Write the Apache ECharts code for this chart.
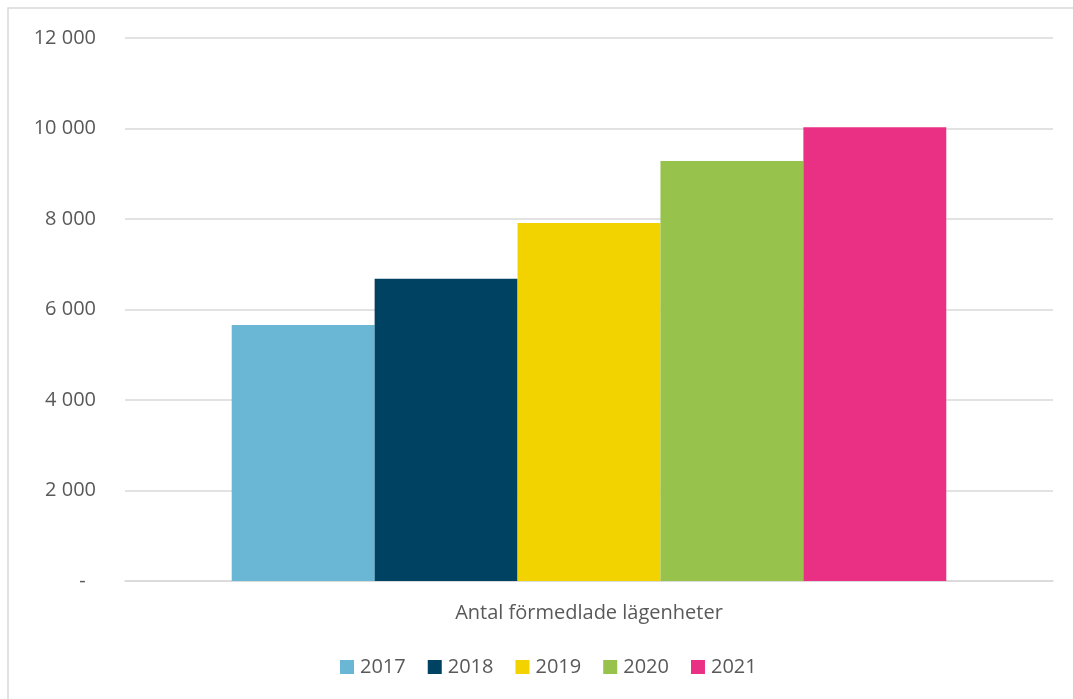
<!DOCTYPE html>
<html>
<head>
<meta charset="utf-8">
<script src="https://cdn.jsdelivr.net/npm/echarts@6/dist/echarts.min.js"></script>
<style>html,body{margin:0;padding:0;background:#fff;}#c{width:1073px;height:699px;}</style>
</head>
<body>
<div id="c"></div>
<script>
var categories = ['Antal förmedlade lägenheter'];
var years = ['2017', '2018', '2019', '2020', '2021'];
var values = [5660, 6680, 7910, 9280, 10030];
var colors = ['#69B6D5', '#004262', '#F2D300', '#97C24C', '#E93084'];
var yTicks = [0, 2000, 4000, 6000, 8000, 10000, 12000];

var chart = echarts.init(document.getElementById('c'));
var font = '"Open Sans", "Noto Sans", sans-serif';
var series = years.map(function (y, i) {
  return {
    name: y,
    type: 'bar',
    data: [values[i]],
    itemStyle: { color: colors[i] },
    barGap: '0%',
    barCategoryGap: '23%'
  };
});
chart.setOption({
  animation: false,
  backgroundColor: '#ffffff',
  graphic: [{
    type: 'rect',
    shape: { x: 8, y: 8, width: 1200, height: 1200 },
    style: { fill: 'none', stroke: '#d9d9d9', lineWidth: 1.5 },
    silent: true
  }],
  grid: { left: 125, right: 20, top: 38, bottom: 118 },
  legend: {
    data: years,
    left: 335,
    top: 652,
    itemWidth: 14,
    itemHeight: 14,
    itemGap: 22,
    icon: 'rect',
    textStyle: { fontFamily: font, fontSize: 20, color: '#595959', padding: [0, 0, 0, 1] }
  },
  xAxis: {
    type: 'category',
    data: categories,
    axisLine: { show: true, lineStyle: { color: '#d9d9d9', width: 1.5 } },
    axisTick: { show: false },
    axisLabel: { fontFamily: font, fontSize: 20, color: '#595959', margin: 22 }
  },
  yAxis: {
    type: 'value',
    min: yTicks[0],
    max: yTicks[yTicks.length - 1],
    interval: 2000,
    axisLine: { show: false },
    axisTick: { show: false },
    splitLine: { lineStyle: { color: '#d9d9d9', width: 1.5 } },
    axisLabel: {
      fontFamily: font, fontSize: 20, color: '#595959', margin: 29,
      formatter: function (v) {
        if (v === 0) return '-  ';
        return String(v).replace(/\B(?=(\d{3})+(?!\d))/g, ' ');
      }
    }
  },
  series: series
});
</script>
</body>
</html>
